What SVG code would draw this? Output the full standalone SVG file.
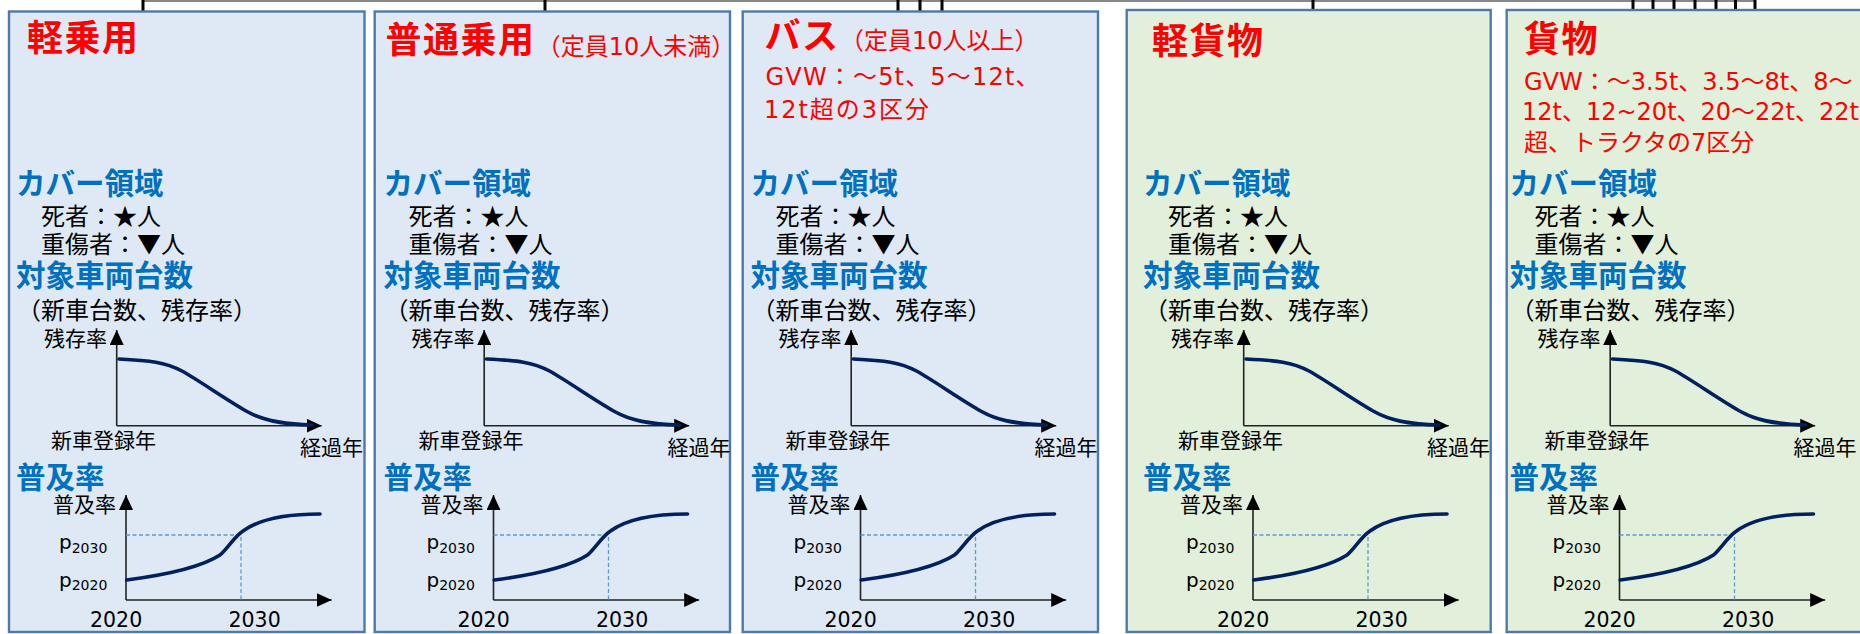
<svg xmlns="http://www.w3.org/2000/svg" width="1860" height="634" viewBox="0 0 1860 634">
<style>
.box-b{fill:#DEE9F5;stroke:#4E7AAB;stroke-width:2.4}
.box-g{fill:#E2EFDA;stroke:#4E7AAB;stroke-width:2.4}
text{font-family:"DejaVu Sans","Noto Sans CJK JP",sans-serif;fill:#000}
.title{font-family:"Noto Sans CJK JP",sans-serif;font-weight:bold;font-size:36px;letter-spacing:1.5px;fill:#FF0000}
.sub{font-family:"DejaVu Sans","Noto Sans CJK JP",sans-serif;font-size:24px;fill:#FF0000}
.gvw{font-size:24px;fill:#FF0000}
.head{font-family:"Noto Sans CJK JP",sans-serif;font-weight:bold;font-size:29.5px;fill:#0070C0}
.body{font-family:"Noto Sans CJK JP",sans-serif;font-size:24px}
.lbl{font-family:"Noto Sans CJK JP",sans-serif;font-size:21px}
.num{font-size:20.5px}
.p{font-size:20px}
.axis{stroke:#222;stroke-width:1.6;fill:none}
.curve{stroke:#002060;stroke-width:3.6;fill:none;stroke-linecap:round}
.dash{stroke:#5B9BD5;stroke-width:1.3;stroke-dasharray:4 2.5;fill:none}
.tie{stroke:#000;stroke-width:3}
.bar{stroke:#888;stroke-width:2}
</style>
<defs>
<marker id="arr" markerUnits="userSpaceOnUse" markerWidth="15" markerHeight="14" refX="15" refY="7" orient="auto" viewBox="0 0 15 14">
<path d="M0,0 L15,7 L0,14 z" fill="#000"/>
</marker>
<g id="charts">
<line class="axis" x1="116.7" y1="425.7" x2="116.7" y2="330" marker-end="url(#arr)"/>
<line class="axis" x1="116.7" y1="425.7" x2="321.7" y2="425.7" marker-end="url(#arr)"/>
<path class="curve" d="M119,359 C150,360.5 165,362 182,371 C200,381 228,401 248,412 C262,420 280,424 312,425"/>
<line class="axis" x1="126" y1="600" x2="126" y2="495" marker-end="url(#arr)"/>
<line class="axis" x1="126" y1="600" x2="331.7" y2="600" marker-end="url(#arr)"/>
<path class="dash" d="M126,535 H241 V600"/>
<path class="curve" d="M126.7,580 C165,575 200,568 220,555 C228,548 234,537 243,531 C258,520 285,514 320,514"/>
</g>
</defs>

<g id="connectors">
<line class="bar" x1="142" y1="1" x2="1756" y2="1"/>
<line class="tie" x1="143" y1="0" x2="143" y2="11"/>
<line class="tie" x1="545" y1="0" x2="545" y2="11"/>
<line class="tie" x1="898" y1="0" x2="898" y2="11"/>
<line class="tie" x1="920" y1="0" x2="920" y2="11"/>
<line class="tie" x1="942" y1="0" x2="942" y2="11"/>
<line class="tie" x1="1313" y1="0" x2="1313" y2="10"/>
<line class="tie" x1="1633" y1="0" x2="1633" y2="10"/>
<line class="tie" x1="1653" y1="0" x2="1653" y2="10"/>
<line class="tie" x1="1674" y1="0" x2="1674" y2="10"/>
<line class="tie" x1="1695" y1="0" x2="1695" y2="10"/>
<line class="tie" x1="1716" y1="0" x2="1716" y2="10"/>
<line class="tie" x1="1735.5" y1="0" x2="1735.5" y2="10"/>
<line class="tie" x1="1755" y1="0" x2="1755" y2="10"/>
</g>

<g id="node-keijoyo">
<rect class="box-b" x="9" y="11.5" width="355.5" height="620.5"/>
<text class="title" x="27" y="51">軽乗用</text>
<g transform="translate(0,0)">
<text class="head" x="16" y="194">カバー領域</text>
<text class="body" x="41" y="225">死者：★人</text>
<text class="body" x="41" y="253">重傷者：▼人</text>
<text class="head" x="16" y="286">対象車両台数</text>
<text class="body" x="17" y="319">（新車台数、残存率）</text>
<text class="lbl" x="44" y="346">残存率</text>
<text class="lbl" x="51" y="448">新車登録年</text>
<text class="lbl" x="300" y="455">経過年</text>
<text class="head" x="16" y="488">普及率</text>
<text class="lbl" x="53" y="512">普及率</text>
<text class="p" x="59" y="549">p<tspan font-size="14" dy="4">2030</tspan></text>
<text class="p" x="59" y="587">p<tspan font-size="14" dy="3">2020</tspan></text>
<text class="num" x="90" y="627">2020</text>
<text class="num" x="228.5" y="627">2030</text>
<use href="#charts"/>
</g>
</g>

<g id="node-futsujoyo">
<rect class="box-b" x="374.7" y="11.5" width="355.3" height="620.5"/>
<text class="title" x="385.5" y="53">普通乗用</text>
<text class="sub" x="536.7" y="55">（定員10人未満）</text>
<g transform="translate(367.5,0)">
<text class="head" x="16" y="194">カバー領域</text>
<text class="body" x="41" y="225">死者：★人</text>
<text class="body" x="41" y="253">重傷者：▼人</text>
<text class="head" x="16" y="286">対象車両台数</text>
<text class="body" x="17" y="319">（新車台数、残存率）</text>
<text class="lbl" x="44" y="346">残存率</text>
<text class="lbl" x="51" y="448">新車登録年</text>
<text class="lbl" x="300" y="455">経過年</text>
<text class="head" x="16" y="488">普及率</text>
<text class="lbl" x="53" y="512">普及率</text>
<text class="p" x="59" y="549">p<tspan font-size="14" dy="4">2030</tspan></text>
<text class="p" x="59" y="587">p<tspan font-size="14" dy="3">2020</tspan></text>
<text class="num" x="90" y="627">2020</text>
<text class="num" x="228.5" y="627">2030</text>
<use href="#charts"/>
</g>
</g>

<g id="node-bus">
<rect class="box-b" x="742.7" y="11.5" width="355.3" height="620.5"/>
<text class="title" x="764.5" y="49">バス</text>
<text class="sub" x="840" y="48.5">（定員10人以上）</text>
<text class="gvw" x="765.5" y="85" textLength="274" lengthAdjust="spacing">GVW：～5t、5～12t、</text>
<text class="gvw" x="764" y="118" textLength="165" lengthAdjust="spacing">12t超の3区分</text>
<g transform="translate(734.5,0)">
<text class="head" x="16" y="194">カバー領域</text>
<text class="body" x="41" y="225">死者：★人</text>
<text class="body" x="41" y="253">重傷者：▼人</text>
<text class="head" x="16" y="286">対象車両台数</text>
<text class="body" x="17" y="319">（新車台数、残存率）</text>
<text class="lbl" x="44" y="346">残存率</text>
<text class="lbl" x="51" y="448">新車登録年</text>
<text class="lbl" x="300" y="455">経過年</text>
<text class="head" x="16" y="488">普及率</text>
<text class="lbl" x="53" y="512">普及率</text>
<text class="p" x="59" y="549">p<tspan font-size="14" dy="4">2030</tspan></text>
<text class="p" x="59" y="587">p<tspan font-size="14" dy="3">2020</tspan></text>
<text class="num" x="90" y="627">2020</text>
<text class="num" x="228.5" y="627">2030</text>
<use href="#charts"/>
</g>
</g>

<g id="node-keikamotsu">
<rect class="box-g" x="1126.7" y="10" width="364" height="622"/>
<text class="title" x="1152" y="54">軽貨物</text>
<g transform="translate(1127,0)">
<text class="head" x="16" y="194">カバー領域</text>
<text class="body" x="41" y="225">死者：★人</text>
<text class="body" x="41" y="253">重傷者：▼人</text>
<text class="head" x="16" y="286">対象車両台数</text>
<text class="body" x="17" y="319">（新車台数、残存率）</text>
<text class="lbl" x="44" y="346">残存率</text>
<text class="lbl" x="51" y="448">新車登録年</text>
<text class="lbl" x="300" y="455">経過年</text>
<text class="head" x="16" y="488">普及率</text>
<text class="lbl" x="53" y="512">普及率</text>
<text class="p" x="59" y="549">p<tspan font-size="14" dy="4">2030</tspan></text>
<text class="p" x="59" y="587">p<tspan font-size="14" dy="3">2020</tspan></text>
<text class="num" x="90" y="627">2020</text>
<text class="num" x="228.5" y="627">2030</text>
<use href="#charts"/>
</g>
</g>

<g id="node-kamotsu">
<rect class="box-g" x="1506.7" y="10" width="364" height="622"/>
<text class="title" x="1524" y="52">貨物</text>
<text class="gvw" x="1524" y="90">GVW：～3.5t、3.5～8t、8～</text>
<text class="gvw" x="1522" y="120">12t、12~20t、20～22t、22t</text>
<text class="gvw" x="1524" y="151">超、トラクタの7区分</text>
<g transform="translate(1493.5,0)">
<text class="head" x="16" y="194">カバー領域</text>
<text class="body" x="41" y="225">死者：★人</text>
<text class="body" x="41" y="253">重傷者：▼人</text>
<text class="head" x="16" y="286">対象車両台数</text>
<text class="body" x="17" y="319">（新車台数、残存率）</text>
<text class="lbl" x="44" y="346">残存率</text>
<text class="lbl" x="51" y="448">新車登録年</text>
<text class="lbl" x="300" y="455">経過年</text>
<text class="head" x="16" y="488">普及率</text>
<text class="lbl" x="53" y="512">普及率</text>
<text class="p" x="59" y="549">p<tspan font-size="14" dy="4">2030</tspan></text>
<text class="p" x="59" y="587">p<tspan font-size="14" dy="3">2020</tspan></text>
<text class="num" x="90" y="627">2020</text>
<text class="num" x="228.5" y="627">2030</text>
<use href="#charts"/>
</g>
</g>
</svg>
